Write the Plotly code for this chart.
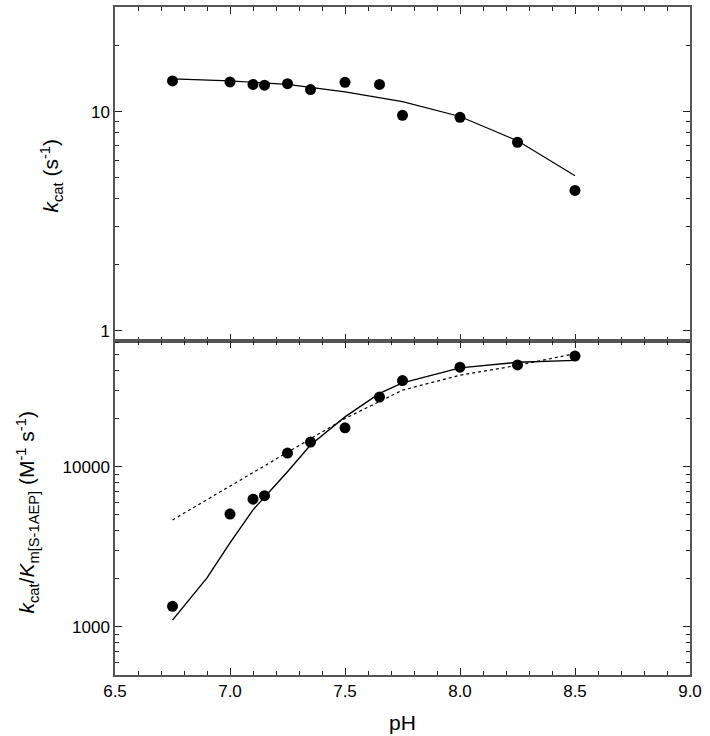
import plotly.graph_objects as go
from plotly.subplots import make_subplots

# top panel: kcat vs pH
ph_pts = [6.75, 7.0, 7.1, 7.15, 7.25, 7.35, 7.5, 7.65, 7.75, 8.0, 8.25, 8.5]
kcat_pts = [13.8, 13.65, 13.3, 13.2, 13.4, 12.6, 13.6, 13.3, 9.62, 9.42, 7.25, 4.37]
ph_fit_top = [6.75, 7.0, 7.25, 7.5, 7.75, 8.0, 8.25, 8.5]
kcat_fit = [14.1, 13.8, 13.3, 12.3, 11.1, 9.5, 7.36, 5.1]

# bottom panel: kcat/Km vs pH
kcatkm_pts = [1343, 5060, 6270, 6590, 12170, 14250, 17500, 27200, 34500, 41800, 43200, 49100]
ph_fit_solid = [6.75, 6.9, 7.0, 7.1, 7.25, 7.35, 7.5, 7.65, 7.75, 8.0, 8.25, 8.5]
kcatkm_solid = [1100, 2020, 3340, 5370, 9310, 13650, 20470, 28660, 33350, 41400, 44900, 46100]
ph_fit_dot = [6.75, 7.0, 7.25, 7.5, 7.75, 8.0, 8.25, 8.5]
kcatkm_dot = [4650, 7580, 12400, 20000, 30060, 37240, 42960, 50800]

x_ticks = [6.5, 7.0, 7.5, 8.0, 8.5, 9.0]
top_ticks = [1, 10]
top_minor = [0.9, 2, 3, 4, 5, 6, 7, 8, 9, 20, 30]
bot_ticks = [1000, 10000]
bot_minor = [500, 600, 700, 800, 900, 2000, 3000, 4000, 5000, 6000, 7000, 8000, 9000, 20000, 30000, 40000, 50000, 60000]

FONT = "Arial, Liberation Sans, sans-serif"

fig = make_subplots(rows=2, cols=1, shared_xaxes=True, vertical_spacing=0)

fig.add_trace(go.Scatter(x=ph_fit_top, y=kcat_fit, mode="lines",
                         line=dict(color="black", width=1.2)), row=1, col=1)
fig.add_trace(go.Scatter(x=ph_pts, y=kcat_pts, mode="markers",
                         marker=dict(color="black", size=11)), row=1, col=1)

fig.add_trace(go.Scatter(x=ph_fit_dot, y=kcatkm_dot, mode="lines",
                         line=dict(color="black", width=1.2, dash="dot")), row=2, col=1)
fig.add_trace(go.Scatter(x=ph_fit_solid, y=kcatkm_solid, mode="lines",
                         line=dict(color="black", width=1.4)), row=2, col=1)
fig.add_trace(go.Scatter(x=ph_pts, y=kcatkm_pts, mode="markers",
                         marker=dict(color="black", size=11)), row=2, col=1)

axis_style = dict(showline=True, linecolor="#555", linewidth=1.5, mirror="ticks",
                  ticks="inside", ticklen=7, tickwidth=1.2, tickcolor="#222",
                  showgrid=False, zeroline=False,
                  tickfont=dict(family=FONT, size=17, color="black"))
minor_style = dict(ticks="inside", ticklen=4, tickwidth=1, tickcolor="#222", showgrid=False)

for r in (1, 2):
    fig.update_xaxes(range=[6.5, 9.0], tickvals=x_ticks, tickformat=".1f",
                     minor=dict(dtick=0.1, **minor_style),
                     row=r, col=1, **axis_style)

fig.update_xaxes(title=dict(text="pH", font=dict(family=FONT, size=21, color="black"), standoff=15),
                 row=2, col=1)

fig.update_yaxes(type="log", range=[-0.046, 1.477], tickvals=top_ticks, ticktext=["1", "10"],
                 minor=dict(tickvals=top_minor, **minor_style),
                 row=1, col=1, **axis_style)
fig.update_yaxes(type="log", range=[2.699, 4.785], tickvals=bot_ticks, ticktext=["1000", "10000"],
                 minor=dict(tickvals=bot_minor, **minor_style),
                 row=2, col=1, **axis_style)

W, H = 710, 736
ml, mr, mt, mb = 115, 20, 5, 61
pw = W - ml - mr
ph_ = H - mt - mb

def px_x(px):
    return (px - ml) / pw

def px_y(py):
    return 1 - (py - mt) / ph_

fig.add_annotation(text="<i>k</i><sub>cat</sub> (s<sup>-1</sup>)", textangle=-90,
                   xref="paper", yref="paper", x=px_x(51), y=px_y(175),
                   xanchor="center", yanchor="middle",
                   showarrow=False, font=dict(family=FONT, size=21, color="black"))
fig.add_annotation(text="<i>k</i><sub>cat</sub>/<i>K</i><sub>m[S-1AEP]</sub> (M<sup>-1</sup> s<sup>-1</sup>)",
                   textangle=-90, xref="paper", yref="paper", x=px_x(27), y=px_y(512),
                   xanchor="center", yanchor="middle",
                   showarrow=False, font=dict(family=FONT, size=21, color="black"))

fig.update_layout(width=W, height=H, showlegend=False,
                  margin=dict(l=ml, r=mr, t=mt, b=mb),
                  plot_bgcolor="white", paper_bgcolor="white")

fig.write_html("out.html", config={"displayModeBar": False},
               post_script="document.body.style.margin='0px';")
